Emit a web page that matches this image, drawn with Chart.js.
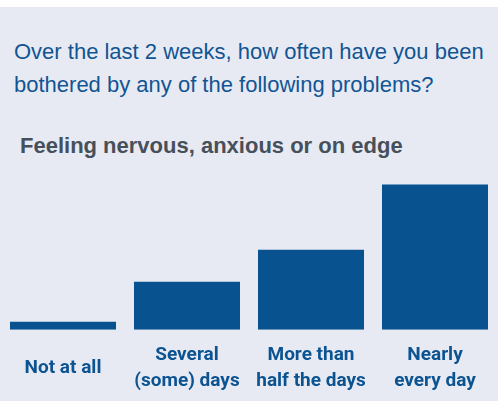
<!DOCTYPE html>
<html>
<head>
<meta charset="utf-8">
<script src="https://cdn.jsdelivr.net/npm/chart.js"></script>
<style>
  html, body { margin: 0; background: #ffffff; overflow: hidden; }
  #panel { position: absolute; left: 0; top: 7px; width: 498px; height: 394px; background: #e8eaf3; overflow: hidden; }
  #title { position: absolute; left: 14px; top: 28px; font: 22px "Liberation Sans", Arial, sans-serif; line-height: 33px; color: #115593; }
  #subtitle { position: absolute; left: 20px; top: 126px; font: bold 22px "Liberation Sans", Arial, sans-serif; line-height: 26px; color: #46505a; }
  #chartBox { position: absolute; left: 0; top: 163px; width: 498px; height: 263px; }
</style>
</head>
<body>
<div id="panel">
  <div id="title">Over the last 2 weeks, how often have you been<br>bothered by any of the following problems?</div>
  <div id="subtitle">Feeling nervous, anxious or on edge</div>
  <div id="chartBox"><canvas id="answerChart" width="498" height="263"></canvas></div>
</div>
<script>
// answer categories (tick labels, split into lines)
const answers = [
    'Not at all',
    ['Several', '(some) days'],
    ['More than', 'half the days'],
    ['Nearly', 'every day']
];
// bar heights, tallest bar = 100
const shares = [5.5, 33, 55, 100];

const barBlue = '#07528f';
const labelBlue = '#0b5391';

const ctx = document.getElementById('answerChart').getContext('2d');
window.answerChart = new Chart(ctx, {
    type: 'bar',
    data: {
        labels: answers,
        datasets: [
            {
                label: 'Feeling nervous, anxious or on edge',
                data: shares,
                backgroundColor: barBlue,
                borderWidth: 0,
                categoryPercentage: 1,
                barPercentage: 0.855
            }
        ]
    },
    options: {
        responsive: false,
        animation: false,
        layout: {
            padding: { left: 1, right: 1, top: 0, bottom: 0 }
        },
        plugins: {
            legend: { display: false },
            tooltip: { enabled: false }
        },
        scales: {
            x: {
                grid: { display: false, drawTicks: false },
                border: { display: false },
                // tick padding would otherwise push the bars in from the sides
                afterFit: (scale) => {
                    scale.paddingLeft = 0;
                    scale.paddingRight = 0;
                },
                ticks: {
                    color: labelBlue,
                    padding: 26,
                    crossAlign: 'center',
                    maxRotation: 0,
                    autoSkip: false,
                    font: { family: 'Roboto, "Liberation Sans", sans-serif', size: 19, weight: 'bold', lineHeight: 1.35 }
                }
            },
            y: {
                display: false,
                min: 0,
                max: 110
            }
        }
    }
});
</script>
</body>
</html>
